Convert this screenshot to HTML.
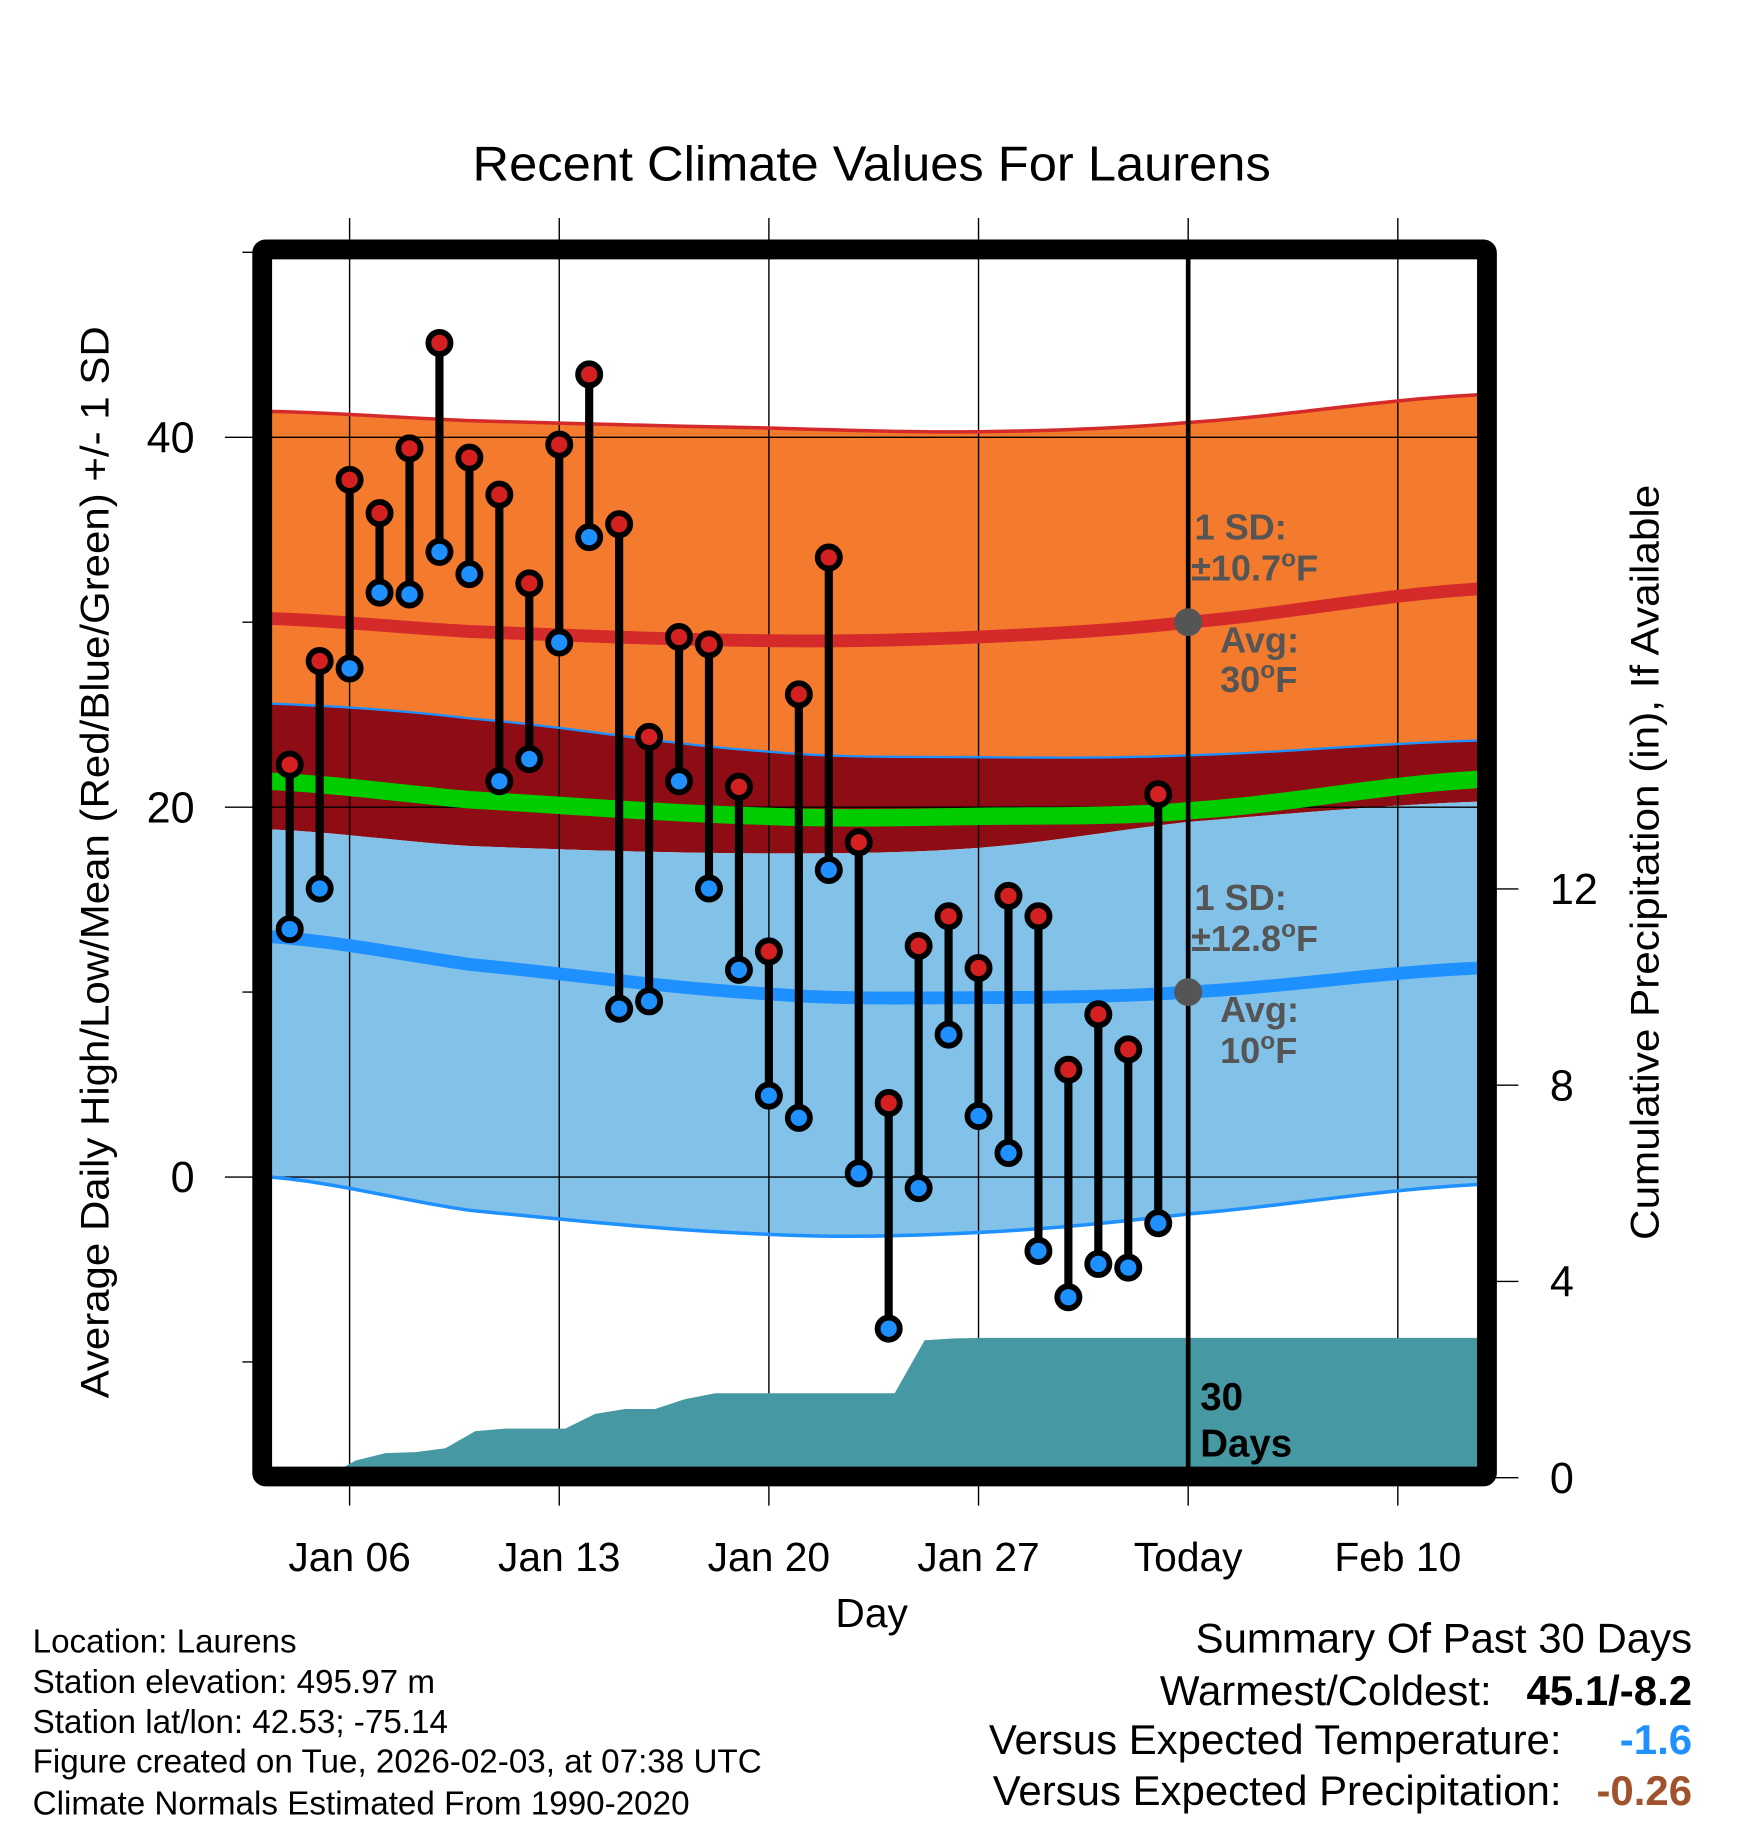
<!DOCTYPE html>
<html><head><meta charset="utf-8"><style>html,body{margin:0;padding:0;background:#fff}svg{display:block}text{font-family:"Liberation Sans",sans-serif}</style></head>
<body>
<svg id="chart" xmlns="http://www.w3.org/2000/svg" width="1748" height="1828" viewBox="0 0 1500 1568.6">
<g id="bands"></g>
<g id="grid"></g>
<g id="precip"></g>
<g id="lines"></g>
<g id="marks"></g>
<g id="frame"></g>
<g id="labels">
<text x="748" y="155" font-size="42" text-anchor="middle" textLength="685" lengthAdjust="spacingAndGlyphs">Recent Climate Values For Laurens</text>
<text x="748" y="1396" font-size="35" text-anchor="middle">Day</text>
<text transform="translate(93,740) rotate(-90)" font-size="34" text-anchor="middle" textLength="920" lengthAdjust="spacingAndGlyphs">Average Daily High/Low/Mean (Red/Blue/Green) +/- 1 SD</text>
<text transform="translate(1423,740) rotate(-90)" font-size="34" text-anchor="middle" textLength="648" lengthAdjust="spacingAndGlyphs">Cumulative Precipitation (in), If Available</text>
<g font-weight="bold" fill="#555" font-size="31">
<text x="1025" y="463">1 SD:</text>
<text x="1022" y="498">±10.7<tspan dy="-12" font-size="21">o</tspan><tspan dy="12">F</tspan></text>
<text x="1047" y="560">Avg:</text>
<text x="1047" y="594">30<tspan dy="-12" font-size="21">o</tspan><tspan dy="12">F</tspan></text>
<text x="1025" y="781">1 SD:</text>
<text x="1022" y="816">±12.8<tspan dy="-12" font-size="21">o</tspan><tspan dy="12">F</tspan></text>
<text x="1047" y="877">Avg:</text>
<text x="1047" y="912">10<tspan dy="-12" font-size="21">o</tspan><tspan dy="12">F</tspan></text>
</g>
<text font-weight="bold" font-size="33" x="1030" y="1210">30</text>
<text font-weight="bold" font-size="33" x="1030" y="1250">Days</text>
<g font-size="28.5">
<text x="28" y="1418">Location: Laurens</text>
<text x="28" y="1453">Station elevation: 495.97 m</text>
<text x="28" y="1487">Station lat/lon: 42.53; -75.14</text>
<text x="28" y="1521">Figure created on Tue, 2026-02-03, at 07:38 UTC</text>
<text x="28" y="1557">Climate Normals Estimated From 1990-2020</text>
</g>
<g font-size="36">
<text x="1452" y="1418" text-anchor="end">Summary Of Past 30 Days</text>
<text x="1280" y="1463" text-anchor="end">Warmest/Coldest:</text>
<text x="1452" y="1463" text-anchor="end" font-weight="bold">45.1/-8.2</text>
<text x="1340" y="1505" text-anchor="end">Versus Expected Temperature:</text>
<text x="1452" y="1505" text-anchor="end" font-weight="bold" fill="#1e90ff">-1.6</text>
<text x="1340" y="1549" text-anchor="end">Versus Expected Precipitation:</text>
<text x="1452" y="1549" text-anchor="end" font-weight="bold" fill="#a0522d">-0.26</text>
</g>
</g>
</svg>
<script>
const normDays=[3.35,10,20,27,34,43.7];
const hiUpper=[41.4,40.9,40.5,40.3,40.8,42.3];
const hiAvg=[30.2,29.5,29.0,29.2,30.0,31.8];
const loUpper=[25.6,24.8,23.0,22.7,22.8,23.6];
const meanAvg=[21.4,20.4,19.5,19.5,19.8,21.5];
const hiLower=[18.8,17.9,17.5,17.8,19.2,20.3];
const loAvg=[13.0,11.5,9.9,9.7,10.0,11.3];
const loLower=[0,-1.8,-3.1,-3.0,-2.0,-0.4];
const obsDays=[4,5,6,7,8,9,10,11,12,13,14,15,16,17,18,19,20,21,22,23,24,25,26,27,28,29,30,31,32,33];
const highs=[22.3,27.9,37.7,35.9,39.4,45.1,38.9,36.9,32.1,39.6,43.4,35.3,23.8,29.2,28.8,21.1,12.2,26.1,33.5,18.1,4.0,12.5,14.1,11.3,15.2,14.1,5.8,8.8,6.9,20.7];
const lows=[13.4,15.6,27.5,31.6,31.5,33.8,32.6,21.4,22.6,28.9,34.6,9.1,9.5,21.4,15.6,11.2,4.4,3.2,16.6,0.2,-8.2,-0.6,7.7,3.3,1.3,-4.0,-6.5,-4.7,-4.9,-2.5];
const precip=[0,0,0.35,0.5,0.52,0.6,0.95,1.0,1.0,1.0,1.3,1.4,1.4,1.6,1.72,1.72,1.72,1.72,1.72,1.72,1.72,2.8,2.84,2.85,2.85,2.85,2.85,2.85,2.85,2.85];
const yTicks=[-10,0,10,20,30,40,50];
const yLabels=[0,20,40];
const pTicks=[0,4,8,12];
const xTickDays=[6,13,20,27,34,41];
const xTickLabels=["Jan 06","Jan 13","Jan 20","Jan 27","Today","Feb 10"];
const todayDay=34, endDay=43.7, todayHi=30, todayLo=10;

const NS="http://www.w3.org/2000/svg";
const X=d=>300+(d-6)*25.7;
const Y=v=>1010-v*15.87;
const P=v=>1268-v*42.1;
function mk(tag,attrs,parent){const e=document.createElementNS(NS,tag);for(const k in attrs)e.setAttribute(k,attrs[k]);parent.appendChild(e);return e;}
function curve(arr){const pts=[];for(let i=0;i<normDays.length-1;i++){for(let t=0;t<10;t++){const f=t/10;const p0=arr[Math.max(i-1,0)],p1=arr[i],p2=arr[i+1],p3=arr[Math.min(i+2,arr.length-1)];
const v=0.5*((2*p1)+(-p0+p2)*f+(2*p0-5*p1+4*p2-p3)*f*f+(-p0+3*p1-3*p2+p3)*f*f*f);const d=normDays[i]+(normDays[i+1]-normDays[i])*f;pts.push([X(d),Y(v)]);}}
pts.push([X(normDays[normDays.length-1]),Y(arr[arr.length-1])]);return pts;}
function band(a,b,fill,name){const p=curve(a).concat(curve(b).reverse());const e=mk('polygon',{points:p.map(q=>q.join(',')).join(' '),fill:fill},document.getElementById('bands'));

}
band(hiUpper,loUpper,'#f47a2e','high-sd-band');
band(loUpper,meanAvg,'#8e0c13','overlap-band');
band(meanAvg,hiLower,'#8e0c13','overlap-band-lower');
band(hiLower,loLower,'#82c1e8','low-sd-band');
const L=document.getElementById('lines');
function line(arr,col,w,name){const e=mk('polyline',{points:curve(arr).map(q=>q.join(',')).join(' '),fill:'none',stroke:col,'stroke-width':w},L);

}
line(hiUpper,'#d42a2a',3,'high-upper-line');
line(loUpper,'#1e90ff',2,'low-upper-line');
line(meanAvg,'#00cc00',15,'mean-line');
line(hiAvg,'#d42a2a',11,'high-avg-line');
line(loAvg,'#1e90ff',11,'low-avg-line');
line(loLower,'#1e90ff',3,'low-lower-line');
const G=document.getElementById('grid');
xTickDays.forEach((d,i)=>{const e=mk('line',{x1:X(d),x2:X(d),y1:187,y2:1292,stroke:'#000','stroke-width':1.2},G);


const t=mk('text',{x:X(d),y:1348,'font-size':35,'text-anchor':'middle'},G);t.textContent=xTickLabels[i];

});
yTicks.forEach(v=>{const full=yLabels.includes(v);const e=mk('line',{x1:full?193:208,x2:full?1268:225,y1:Y(v),y2:Y(v),stroke:'#000','stroke-width':1.2},G);

});
yLabels.forEach(v=>{const t=mk('text',{x:167,y:Y(v)+13,'font-size':37,'text-anchor':'end'},G);t.textContent=v;

});
pTicks.forEach(v=>{const e=mk('line',{x1:1276,x2:1303,y1:P(v),y2:P(v),stroke:'#000','stroke-width':1.2},G);


const t=mk('text',{x:1330,y:P(v)+13,'font-size':37},G);t.textContent=v;

});
const pp=[[X(5.2),P(0)]];obsDays.forEach((d,i)=>pp.push([X(d+0.2),P(precip[i])]));pp.push([X(endDay),P(precip[precip.length-1])],[X(endDay),P(0)]);
const pe=mk('polygon',{points:pp.map(q=>q.join(',')).join(' '),fill:'#4699a2'},document.getElementById('precip'));


const M=document.getElementById('marks');
const tl=mk('line',{x1:X(todayDay),x2:X(todayDay),y1:218,y2:1262,stroke:'#000','stroke-width':4},M);


[todayHi,todayLo].forEach(v=>{const c=mk('circle',{cx:X(todayDay),cy:Y(v),r:12,fill:'#555'},M);

});
obsDays.forEach((d,i)=>{const x=X(d);
const s=mk('line',{x1:x,x2:x,y1:Y(highs[i]),y2:Y(lows[i]),stroke:'#000','stroke-width':7},M);


const h=mk('circle',{cx:x,cy:Y(highs[i]),r:9.5,fill:'#d42020',stroke:'#000','stroke-width':5},M);


const l=mk('circle',{cx:x,cy:Y(lows[i]),r:9.5,fill:'#1e90ff',stroke:'#000','stroke-width':5},M);

});
const fr=mk('rect',{x:225,y:214,width:1051,height:1053,rx:3,fill:'none',stroke:'#000','stroke-width':17},document.getElementById('frame'));


</script>
</body></html>
